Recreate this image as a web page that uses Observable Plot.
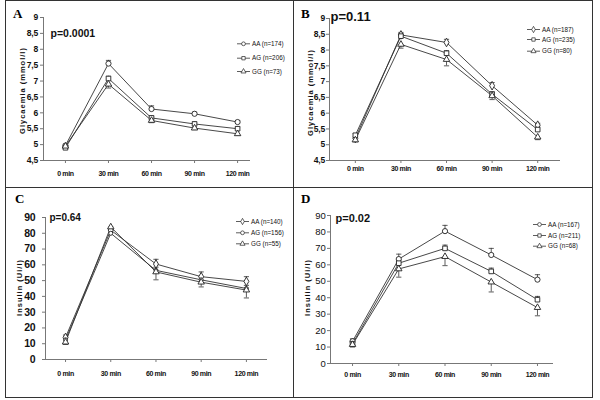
<!DOCTYPE html>
<html><head><meta charset="utf-8">
<script src="https://cdn.jsdelivr.net/npm/d3@7"></script>
<script src="https://cdn.jsdelivr.net/npm/@observablehq/plot@0.6"></script>
<style>
body{margin:0;background:#fff;}
#fig{position:relative;width:600px;height:400px;overflow:hidden;font-family:"Liberation Sans",Arial,sans-serif;}
.cell{position:absolute;}
.cell svg{overflow:visible;}
.cell svg g[aria-label="x-axis tick label"] text{letter-spacing:-0.35px;}
.cell svg g[aria-label="y-axis tick label"] text{letter-spacing:-0.2px;}
.ln{position:absolute;background:#333;}
.letter{position:absolute;font-family:"Liberation Serif","Times New Roman",serif;font-weight:bold;font-size:13px;line-height:13px;}
</style></head><body><div id="fig"></div>
<script>
// ---- data ----
const minutes = [0, 30, 60, 90, 120];
const timeLabels = ["0 min", "30 min", "60 min", "90 min", "120 min"];
const genotypes = ["AA", "AG", "GG"];
const glyTicks = [4.5, 5, 5.5, 6, 6.5, 7, 7.5, 8, 8.5, 9];
const insTicks = [0, 10, 20, 30, 40, 50, 60, 70, 80, 90];

// Panel A – glycaemia
const aAA = [4.97, 7.55, 6.12, 5.97, 5.71];
const aAG = [4.90, 7.08, 5.84, 5.65, 5.50];
const aGG = [4.95, 6.90, 5.76, 5.52, 5.34];
const aErrAA = [0.04, 0.10, 0.10, 0.05, 0.05];
const aErrAG = [0.04, 0.07, 0.06, 0.06, 0.06];
const aErrGG = [0.05, 0.12, 0.07, 0.05, 0.05];
const aLegend = ["AA (n=174)", "AG (n=206)", "GG (n=73)"];
const aP = "p=0.0001";

// Panel B – glycaemia
const bAA = [5.20, 8.48, 8.24, 6.87, 5.62];
const bAG = [5.30, 8.44, 7.90, 6.60, 5.48];
const bGG = [5.15, 8.18, 7.70, 6.55, 5.24];
const bErrAA = [0.05, 0.08, 0.10, 0.10, 0.06];
const bErrAG = [0.05, 0.08, 0.08, 0.08, 0.08];
const bErrGG = [0.06, 0.12, 0.20, 0.12, 0.08];
const bLegend = ["AA (n=187)", "AG (n=235)", "GG (n=80)"];
const bP = "p=0.11";

// Panel C – insulin
const cAA = [14, 82, 60.5, 52.5, 49.5];
const cAG = [12.5, 80, 56.5, 50.5, 45];
const cGG = [11, 84, 55.5, 49, 44];
const cErrAA = [1.5, 2, 3, 3, 3];
const cErrAG = [1, 2, 2, 2, 2];
const cErrGG = [1.5, 2, 5, 3, 5];
const cLegend = ["AA (n=140)", "AG (n=156)", "GG (n=55)"];
const cP = "p=0.64";

// Panel D – insulin
const dAA = [13.5, 63.5, 80.5, 66, 51];
const dAG = [12, 61, 70, 56, 38.8];
const dGG = [11.5, 57.5, 65, 49.5, 34];
const dErrAA = [1.5, 3, 3.5, 4, 3];
const dErrAG = [1, 2, 2, 2, 2];
const dErrGG = [1.5, 5, 5.5, 6, 5];
const dLegend = ["AA (n=167)", "AG (n=211)", "GG (n=68)"];
const dP = "p=0.02";

const glyLabel = "Glycaemia (mmol/l)";
const insLabel = "Insulin (Ui/l)";
const errDir = [1, 1, -1];

// ---- drawing ----
const sans = "Liberation Sans, Arial, sans-serif";
const hcap = {draw(ctx) { ctx.moveTo(-2.6, 0); ctx.lineTo(2.6, 0); }};
const hseg = {draw(ctx) { ctx.moveTo(-6.5, 0); ctx.lineTo(6.5, 0); }};
const fig = document.getElementById("fig");

function panel(cfg) {
  const rows = [];
  genotypes.forEach((g, i) => minutes.forEach((t, j) => {
    const v = cfg.values[i][j], e = cfg.errors[i][j] * errDir[i];
    rows.push({g, i, t, v, top: v + e});
  }));
  const marks = [
    Plot.ruleY([cfg.yDomain[0]], {stroke: "#777", strokeWidth: 1}),
    Plot.ruleX([cfg.xDomain[0]], {stroke: "#777", strokeWidth: 1}),
    Plot.axisY({ticks: cfg.yTicks, tickFormat: d => String(d).replace(".", ","), tickSize: 3,
      tickPadding: cfg.yPad, fontSize: cfg.yFont, fontWeight: cfg.yWeight,
      stroke: "#777", label: null}),
    Plot.axisX({ticks: minutes, tickFormat: d => timeLabels[minutes.indexOf(d)], tickSize: 3,
      tickPadding: cfg.xPad, fontSize: 7, fontWeight: "bold", stroke: "#777", label: null}),
    Plot.text([cfg.yLabel], {frameAnchor: "left", rotate: -90, dx: cfg.labelDx, dy: cfg.labelDy,
      textAnchor: "middle", lineAnchor: "middle", fontSize: 7.5, fontWeight: "bold", text: d => d}),
    Plot.text([cfg.p], {frameAnchor: "top-left", dx: cfg.pDx, dy: cfg.pDy, textAnchor: "start",
      lineAnchor: "middle", fontSize: cfg.pFont, fontWeight: "bold", text: d => d}),
    Plot.ruleX(rows, {x: "t", y1: "v", y2: "top", stroke: "#333", strokeWidth: 0.8}),
    Plot.dot(rows, {x: "t", y: "top", symbol: hcap, r: 2, stroke: "#333", strokeWidth: 0.8, fill: "none"}),
    Plot.line(rows, {x: "t", y: "v", z: "g", stroke: "#333", strokeWidth: 0.9})
  ];
  genotypes.forEach((g, i) => {
    marks.push(Plot.dot(rows.filter(d => d.g === g), {x: "t", y: "v", symbol: cfg.symbols[i],
      r: cfg.sizes[i], fill: "white", stroke: "#222", strokeWidth: 0.9}));
    const ly = cfg.legDy[i];
    marks.push(Plot.dot([g], {frameAnchor: "top-left", dx: cfg.legDx, dy: ly, symbol: hseg, r: 2,
      stroke: "#333", strokeWidth: 0.8, fill: "none"}));
    marks.push(Plot.dot([g], {frameAnchor: "top-left", dx: cfg.legDx, dy: ly, symbol: cfg.symbols[i],
      r: 1.9, stroke: "#222", strokeWidth: 0.7, fill: "white"}));
    marks.push(Plot.text([cfg.legend[i]], {frameAnchor: "top-left", dx: cfg.legDx + 8.5, dy: ly,
      textAnchor: "start", lineAnchor: "middle", fontSize: 6.3, text: d => d}));
  });
  const svg = Plot.plot({
    width: cfg.w, height: cfg.h,
    marginLeft: cfg.ml, marginRight: cfg.mr, marginTop: cfg.mt, marginBottom: cfg.mb,
    style: {fontFamily: sans, background: "transparent", color: "#111"},
    x: {domain: cfg.xDomain},
    y: {domain: cfg.yDomain},
    marks
  });
  d3.select(svg).selectAll("text").filter(function() { return this.textContent === cfg.yLabel; })
    .attr("letter-spacing", 1);
  const div = document.createElement("div");
  div.className = "cell";
  div.style.left = cfg.left + "px";
  div.style.top = cfg.top + "px";
  div.appendChild(svg);
  fig.appendChild(div);
  const L = document.createElement("div");
  L.className = "letter";
  L.textContent = cfg.letter;
  L.style.left = cfg.letterX + "px";
  L.style.top = (cfg.letterY - 6.5) + "px";
  fig.appendChild(L);
}

panel({letter: "A", letterX: 13, letterY: 13, left: 5, top: 0, w: 288, h: 187, ml: 38, mr: 43, mt: 17, mb: 27,
  xDomain: [-15.3, 129], yDomain: [4.5, 9], yTicks: glyTicks, yFont: 8.5, yWeight: "bold", yPad: 2.5, xPad: 7.5,
  yLabel: glyLabel, labelDx: -21, labelDy: 1.5, p: aP, pDx: 7, pDy: 16, pFont: 10.5,
  values: [aAA, aAG, aGG], errors: [aErrAA, aErrAG, aErrGG], symbols: ["circle", "square", "triangle"], sizes: [2.6, 2.6, 2.4],
  legend: aLegend, legDx: 200, legDy: [26.3, 40.7, 54]});

panel({letter: "B", letterX: 301, letterY: 13, left: 293, top: 0, w: 299, h: 187, ml: 36, mr: 32, mt: 18, mb: 27,
  xDomain: [-17, 135], yDomain: [4.5, 9], yTicks: glyTicks, yFont: 8.5, yWeight: "bold", yPad: 1.5, xPad: 3,
  yLabel: glyLabel, labelDx: -19, labelDy: 3, p: bP, pDx: 1, pDy: -2, pFont: 13,
  values: [bAA, bAG, bGG], errors: [bErrAA, bErrAG, bErrGG], symbols: ["diamond", "square", "triangle"], sizes: [2.6, 2.6, 2.4],
  legend: bLegend, legDx: 204, legDy: [11, 21, 32.7]});

panel({letter: "C", letterX: 15, letterY: 198, left: 5, top: 187, w: 288, h: 211, ml: 40, mr: 26, mt: 30, mb: 39,
  xDomain: [-13.3, 134], yDomain: [0, 90], yTicks: insTicks, yFont: 10.5, yWeight: "bold", yPad: 7, xPad: 8.7,
  yLabel: insLabel, labelDx: -26, labelDy: -1, p: cP, pDx: 4, pDy: 0, pFont: 10,
  values: [cAA, cAG, cGG], errors: [cErrAA, cErrAG, cErrGG], symbols: ["diamond", "circle", "triangle"], sizes: [2.6, 2, 2.4],
  legend: cLegend, legDx: 197, legDy: [4, 15.3, 26.3]});

panel({letter: "D", letterX: 301, letterY: 198, left: 293, top: 187, w: 299, h: 211, ml: 37, mr: 39, mt: 28, mb: 35,
  xDomain: [-14.3, 130.4], yDomain: [0, 90], yTicks: insTicks, yFont: 9.5, yWeight: "normal", yPad: 2, xPad: 5.7,
  yLabel: insLabel, labelDx: -22.5, labelDy: -2, p: dP, pDx: 5, pDy: 3, pFont: 11,
  values: [dAA, dAG, dGG], errors: [dErrAA, dErrAG, dErrGG], symbols: ["circle", "square", "triangle"], sizes: [2.6, 2.6, 2.4],
  legend: dLegend, legDx: 209, legDy: [9, 20, 30.7]});

// frame lines
[[5, 0, 588, 1], [5, 397, 588, 1], [5, 0, 1, 398], [592, 0, 1, 398], [293, 0, 1, 398], [5, 187, 588, 1]]
  .forEach(([x, y, w, h]) => {
    const d = document.createElement("div");
    d.className = "ln";
    Object.assign(d.style, {left: x + "px", top: y + "px", width: w + "px", height: h + "px"});
    fig.appendChild(d);
  });
</script></body></html>
